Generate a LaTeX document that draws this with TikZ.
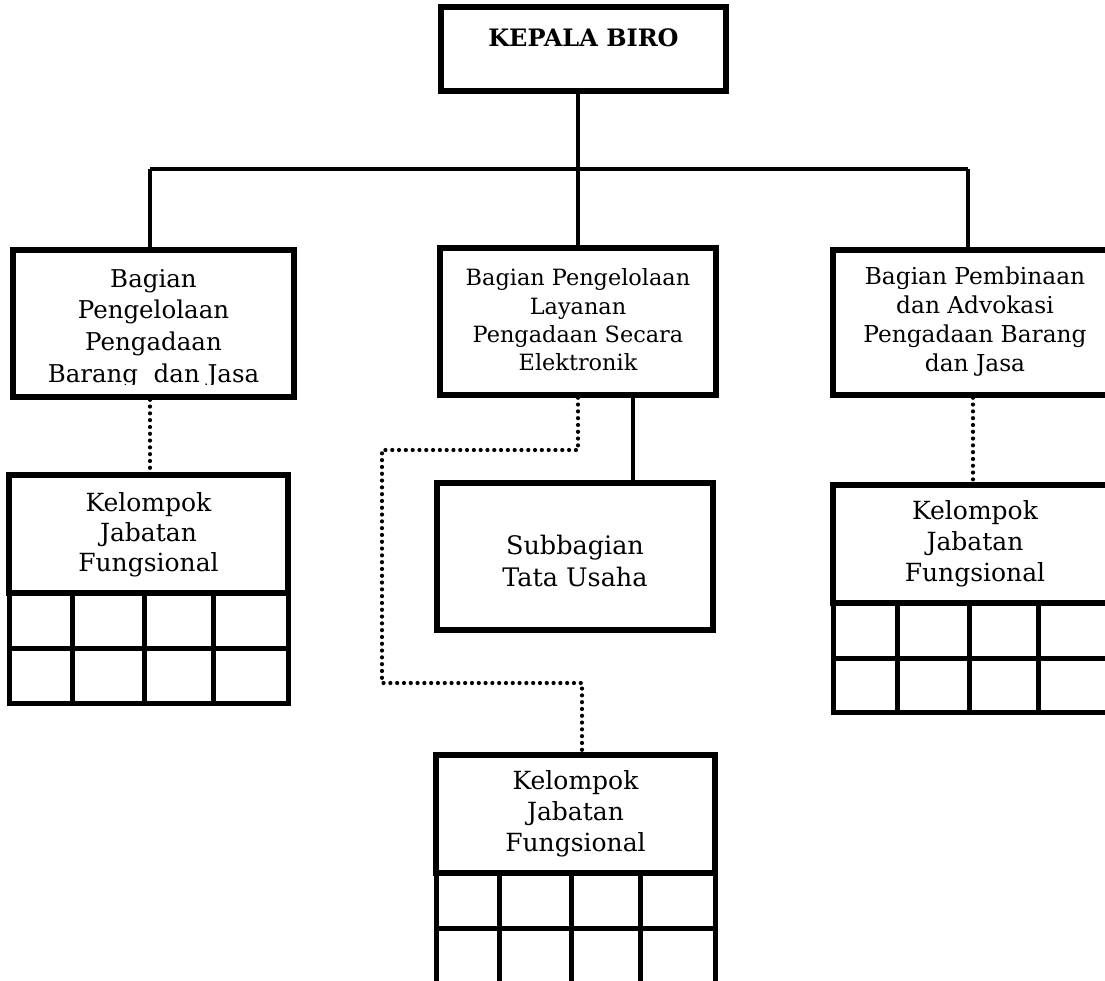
\documentclass[tikz,border=0pt]{standalone}
\usepackage{fontspec}
\setmainfont{DejaVu Serif}
\begin{document}
\begin{tikzpicture}[x=1pt,y=-1pt,
  box/.style={draw, line width=5.5pt, rectangle, inner sep=0pt},
  txt/.style={align=center, inner sep=0pt},
  conn/.style={line width=4.5pt},
  dots/.style={line width=4.2pt, line cap=round, dash pattern=on 0pt off 6.8pt},
  gridl/.style={line width=5pt}]
\useasboundingbox (0,0) rectangle (1105,980);
\clip (0,0) rectangle (1105,980);
\fill[white] (0,0) rectangle (1105,980);

% Kepala Biro
\node[box, minimum width=285pt, minimum height=84pt] (kb) at (583.5,49) {};
\node[txt, font=\fontsize{24}{28}\selectfont\bfseries] (kbt) at (583.5,38) {KEPALA BIRO};

% Bagian boxes
\node[box, minimum width=281pt, minimum height=147pt] (bagL) at (153.5,323.5) {};
\begin{scope}
\clip (13,250) rectangle (294,384);
\node[txt, font=\fontsize{24.5}{31.7}\selectfont] (bagLt) at (153.5,328.5) {Bagian\\Pengelolaan\\Pengadaan\\Barang\ \ dan Jasa};
\end{scope}

\node[box, minimum width=276pt, minimum height=147pt] (mid) at (578,321.5) {};
\node[txt, font=\fontsize{22.4}{28.3}\selectfont] (midt) at (578,320) {Bagian Pengelolaan\\Layanan\\Pengadaan Secara\\Elektronik};

\node[box, minimum width=280pt, minimum height=145pt] (bagR) at (973,322.5) {};
\node[txt, font=\fontsize{23.3}{29}\selectfont] (bagRt) at (975,322) {Bagian Pembinaan\\dan Advokasi\\Pengadaan Barang\\dan Jasa};

% Subbagian
\node[box, minimum width=276pt, minimum height=147pt] (sub) at (575,556.5) {};
\node[txt, font=\fontsize{25.5}{32}\selectfont] (subt) at (575,561) {Subbagian\\Tata Usaha};

% KJF left
\node[box, minimum width=279pt, minimum height=118pt] (kjfL) at (148.5,534) {};
\node[txt, font=\fontsize{25}{30}\selectfont] (kjfLt) at (148.5,535) {Kelompok\\Jabatan\\Fungsional};
\draw[gridl] (9,593) rectangle (288,703);
\draw[gridl] (9,648) -- (288,648);
\foreach \c in {72,144,213} \draw[gridl] (\c,593) -- (\c,703);

% KJF right
\node[box, minimum width=280pt, minimum height=118pt] (kjfR) at (973,544) {};
\node[txt, font=\fontsize{25}{31}\selectfont] (kjfRt) at (975,544) {Kelompok\\Jabatan\\Fungsional};
\draw[gridl] (833,603) rectangle (1113,712);
\draw[gridl] (833,658) -- (1113,658);
\foreach \c in {897,969,1038} \draw[gridl] (\c,603) -- (\c,712);

% KJF bottom
\node[box, minimum width=279pt, minimum height=118pt] (kjfB) at (575.5,814) {};
\node[txt, font=\fontsize{25}{31}\selectfont] (kjfBt) at (575.5,814) {Kelompok\\Jabatan\\Fungsional};
\draw[gridl] (436,873) rectangle (715,990);
\draw[gridl] (436,928) -- (715,928);
\foreach \c in {499,571,640} \draw[gridl] (\c,873) -- (\c,990);

% connectors
\coordinate (barL) at (150,169);
\coordinate (barR) at (968,169);
\draw[conn] (barL) -- (barR);
\draw[conn] (mid.north |- kb.south) -- (mid.north);
\draw[conn] (barL) -- (barL |- bagL.north);
\draw[conn] (barR) -- (barR |- bagR.north);
\draw[conn] ([xshift=55pt]mid.south) -- ([xshift=55pt]mid.south |- sub.north);

\draw[dots] (barL |- bagL.south) -- (barL |- kjfL.north);
\draw[dots] (bagR.south) -- (kjfR.north);
\coordinate (d1) at (382,450);
\coordinate (d2) at (382,683);
\draw[dots] (mid.south) |- (d1) -- (d2) -| ([xshift=6.5pt]kjfB.north);
\end{tikzpicture}
\end{document}
